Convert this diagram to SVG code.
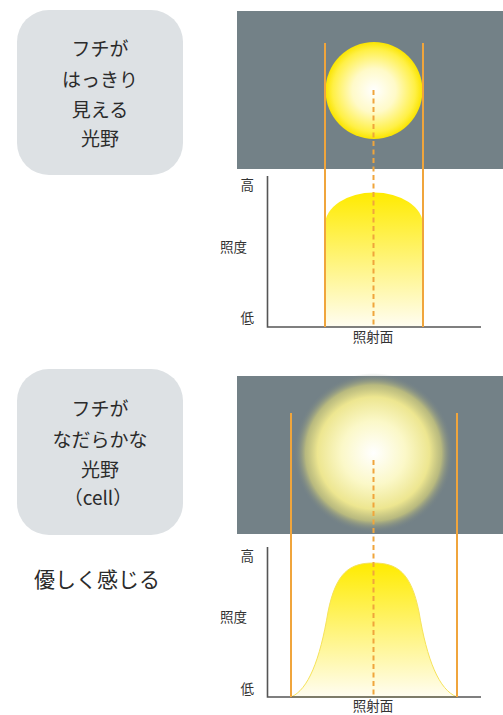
<svg xmlns="http://www.w3.org/2000/svg" width="503" height="715" viewBox="0 0 503 715">
<defs>
<style>
.box{fill:#DDE1E4}
.lbl{font-family:"Noto Sans CJK JP","Noto Sans",sans-serif;font-size:19px;fill:#2b2b2b;text-anchor:middle}
.ax{font-family:"Noto Sans CJK JP","Noto Sans",sans-serif;font-size:13.5px;fill:#333}
.panel{fill:#738187}
.side{stroke:#F0A53C;stroke-width:2;fill:none}
.dash{stroke:#F0A53C;stroke-width:2;stroke-dasharray:5 3.5;fill:none}
.axis{stroke:#555;stroke-width:1.6;fill:none}
</style>
<radialGradient id="sharp" cx="0.5" cy="0.5" r="0.5">
<stop offset="0" stop-color="#FFFFFF"/>
<stop offset="0.45" stop-color="#FFFAC8"/>
<stop offset="0.85" stop-color="#FFF045"/>
<stop offset="1" stop-color="#FAE400"/>
</radialGradient>
<radialGradient id="soft" cx="0.5" cy="0.5" r="0.5">
<stop offset="0" stop-color="#FFFFFF"/>
<stop offset="0.4" stop-color="#FBF8C8"/>
<stop offset="0.7" stop-color="#EDE690"/>
<stop offset="0.85" stop-color="#CFCC7C" stop-opacity="0.75"/>
<stop offset="1" stop-color="#738187" stop-opacity="0"/>
</radialGradient>
<linearGradient id="fillg" x1="0" y1="0" x2="0" y2="1">
<stop offset="0" stop-color="#FFEB00"/>
<stop offset="1" stop-color="#FFFDF2"/>
</linearGradient>
</defs>

<g id="box-sharp">
<rect class="box" x="17" y="10" width="166" height="165" rx="32"/>
<text class="lbl" x="100" y="56">フチが</text>
<text class="lbl" x="100" y="87">はっきり</text>
<text class="lbl" x="100" y="117">見える</text>
<text class="lbl" x="100" y="146">光野</text>
</g>

<g id="box-soft">
<rect class="box" x="17" y="369" width="166" height="166" rx="32"/>
<text class="lbl" x="100" y="416">フチが</text>
<text class="lbl" x="100" y="447">なだらかな</text>
<text class="lbl" x="100" y="477">光野</text>
<text class="lbl" x="98" y="505">（cell）</text>
</g>

<g id="note">
<text class="lbl" x="97" y="587" style="font-size:21px">優しく感じる</text>
</g>

<g id="panel-sharp">
<rect class="panel" x="237" y="11" width="266" height="158"/>
<circle cx="374" cy="90.5" r="48.5" fill="url(#sharp)"/>
</g>

<g id="panel-soft">
<rect class="panel" x="237" y="376" width="266" height="158"/>
<circle cx="373.5" cy="453" r="80" fill="url(#soft)"/>
</g>

<g id="graph-sharp">
<path d="M325,327 V225 A49,32.5 0 0 1 423,225 V327 Z" fill="url(#fillg)"/>
<path class="axis" d="M267.5,176 V327 H481"/>
<text class="ax" x="254" y="190" text-anchor="end">高</text>
<text class="ax" x="247" y="252" text-anchor="end">照度</text>
<text class="ax" x="254" y="323" text-anchor="end">低</text>
<text class="ax" x="373" y="342" text-anchor="middle">照射面</text>
</g>

<g id="graph-soft">
<path d="M291,697 C308,690 320,660 328,612 C336,572 350,563 373.5,563 C397,563 411,572 419,612 C427,660 439,690 457,697 Z" fill="url(#fillg)" stroke="#F6E35A" stroke-width="1"/>
<path class="axis" d="M267.5,547 V697 H481"/>
<text class="ax" x="254" y="561" text-anchor="end">高</text>
<text class="ax" x="247" y="622" text-anchor="end">照度</text>
<text class="ax" x="254" y="694" text-anchor="end">低</text>
<text class="ax" x="373" y="711" text-anchor="middle">照射面</text>
</g>

<g id="connectors">
<line class="side" x1="325" y1="43" x2="325" y2="327"/>
<line class="side" x1="423" y1="43" x2="423" y2="327"/>
<line class="dash" x1="373.5" y1="90" x2="373.5" y2="327"/>
<line class="side" x1="291" y1="413" x2="291" y2="697"/>
<line class="side" x1="457" y1="413" x2="457" y2="697"/>
<line class="dash" x1="373.5" y1="460" x2="373.5" y2="697"/>
</g>
</svg>
